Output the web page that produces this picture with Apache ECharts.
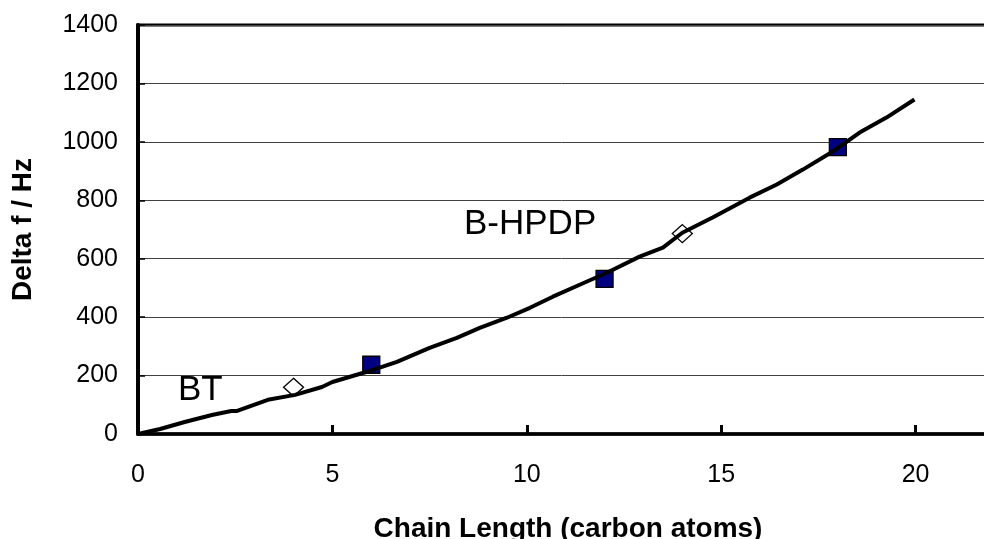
<!DOCTYPE html>
<html>
<head>
<meta charset="utf-8">
<script src="https://cdn.jsdelivr.net/npm/echarts@6/dist/echarts.min.js"></script>
<style>html,body{margin:0;padding:0;background:#fff;overflow:hidden;}#c{width:984px;height:539px;}</style>
</head>
<body>
<div id="c"></div>
<script>
// Fitted curve (x = chain length, y = Delta f / Hz)
const curveX = [0, 0.57, 1.2, 1.9, 2.4, 2.55, 3.34, 4.04, 4.73, 5.0, 5.89, 6.66, 7.5, 8.2, 8.79, 9.49, 10.08, 10.67, 11.36, 12.06, 12.9, 13.5, 14.0, 14.78, 15.73, 16.43, 17.1, 17.87, 18.56, 19.25, 19.97];
const curveY = [0, 17, 41, 65, 79, 79, 117, 134, 161, 178, 213, 247, 295, 329, 363, 398, 432, 470, 511, 552, 607, 638, 689, 741, 809, 854, 905, 967, 1032, 1083, 1145];
// Open diamonds (BT, ...)
const diamondX = [4, 14];
const diamondY = [160, 686];
// Filled squares (B-HPDP, ...)
const squareX = [6, 12, 18];
const squareY = [237, 531, 982];
// Axis ticks
const yTicks = [0, 200, 400, 600, 800, 1000, 1200, 1400];
const xTicks = [0, 5, 10, 15, 20];

const FONT = '"Liberation Sans", Arial, sans-serif';
const zip = (a, b) => a.map((v, i) => [v, b[i]]);

const chart = echarts.init(document.getElementById('c'), null, {renderer: 'canvas'});
chart.setOption({
  animation: false,
  backgroundColor: '#ffffff',
  grid: {left: 138, top: 25, height: 409, width: 972, outerBoundsMode: 'none', containLabel: false,
    show: true, borderColor: '#000', borderWidth: 3, backgroundColor: 'transparent'},
  xAxis: {
    type: 'value', min: 0, max: 25, interval: 5,
    name: 'Chain Length (carbon atoms)', nameLocation: 'middle', nameGap: 81,
    nameTextStyle: {fontFamily: FONT, fontSize: 28, fontWeight: 'bold', color: '#000', padding: [0, 112, 0, 0]},
    axisLine: {show: true, onZero: false, lineStyle: {color: '#000', width: 3.5}},
    axisTick: {show: true, inside: true, length: 9, lineStyle: {color: '#000', width: 3}},
    axisLabel: {fontFamily: FONT, fontSize: 25, color: '#000', margin: 29,
      formatter: v => xTicks.includes(v) ? String(v) : ''},
    splitLine: {show: false}
  },
  yAxis: {
    type: 'value', min: 0, max: 1400, interval: 200,
    name: 'Delta f / Hz', nameLocation: 'middle', nameGap: 101, nameRotate: 90,
    nameTextStyle: {fontFamily: FONT, fontSize: 28, fontWeight: 'bold', color: '#000'},
    axisLine: {show: true, lineStyle: {color: '#000', width: 4}},
    axisTick: {show: true, inside: true, length: 7, lineStyle: {color: '#000', width: 1.5}},
    axisLabel: {fontFamily: FONT, fontSize: 25, color: '#000', margin: 20,
      formatter: v => yTicks.includes(v) ? String(v) : ''},
    splitLine: {show: true, lineStyle: {color: '#404040', width: 1}}
  },
  series: [
    {type: 'line', data: zip(curveX, curveY), showSymbol: false, symbol: 'none',
     lineStyle: {color: '#000', width: 4}, z: 3},
    {type: 'scatter', data: zip(diamondX, diamondY), symbol: 'diamond', symbolSize: [20, 18],
     itemStyle: {color: '#fff', borderColor: '#000', borderWidth: 1.3, opacity: 1}, z: 2},
    {type: 'scatter', data: zip(squareX, squareY), symbol: 'rect', symbolSize: 17,
     itemStyle: {color: '#000080', borderColor: '#000', borderWidth: 1.3, opacity: 1}, z: 2}
  ],
  graphic: [
    {type: 'text', left: 178, top: 373, style: {text: 'BT', font: '35px ' + FONT, fill: '#000'}},
    {type: 'text', left: 464, top: 207, style: {text: 'B-HPDP', font: '35px ' + FONT, fill: '#000'}}
  ]
});
</script>
</body>
</html>
